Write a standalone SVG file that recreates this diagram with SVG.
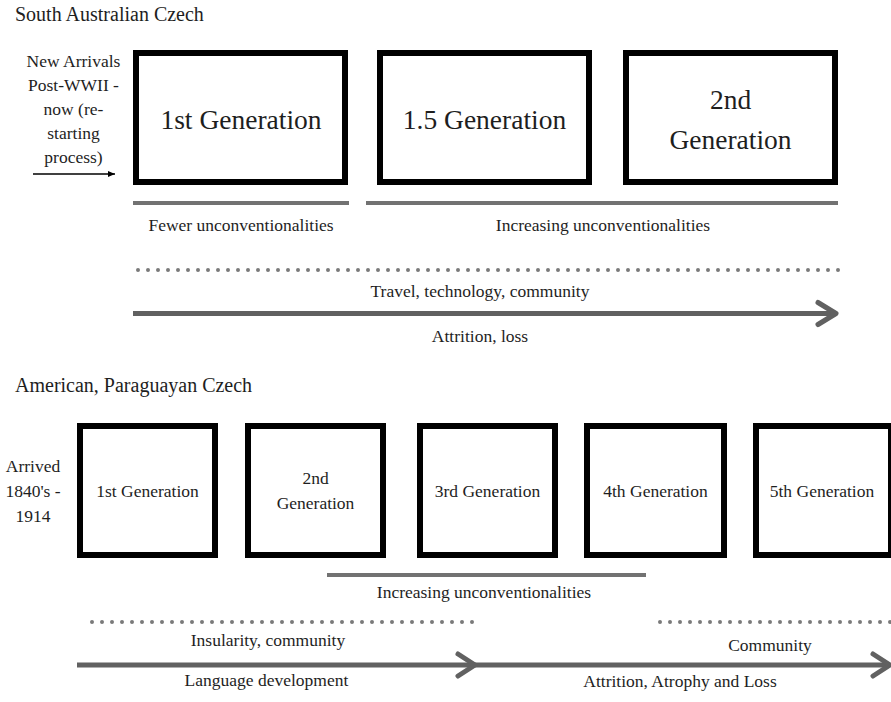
<svg xmlns="http://www.w3.org/2000/svg" width="891" height="702" viewBox="0 0 891 702">
<style>
text{font-family:"Liberation Serif","Times New Roman",serif;fill:#1e1e1e;}
.title{font-size:20px;}
.big{font-size:27.5px;text-anchor:middle;}
.sm{font-size:17.5px;text-anchor:middle;}
.box{fill:#fff;stroke:#000;stroke-width:6;}
.bar{stroke:#727272;stroke-width:4;fill:none;}
.dots{stroke:#7a7a7a;stroke-width:4;stroke-linecap:round;stroke-dasharray:0 10;fill:none;}
.arr{stroke:#616161;stroke-width:5;fill:none;}
.head{stroke:#616161;stroke-width:5;fill:none;stroke-linecap:round;stroke-linejoin:round;}
</style>
<defs>
<marker id="tri" viewBox="0 0 10 10" refX="10" refY="5" markerWidth="7" markerHeight="6" markerUnits="userSpaceOnUse" orient="auto" preserveAspectRatio="none">
<path d="M0,0 L10,5 L0,10 Z" fill="#000"/>
</marker>
</defs>
<rect width="891" height="702" fill="#fff"/>

<!-- Top section -->
<text class="title" x="15" y="20.5">South Australian Czech</text>
<g id="new-arrivals">
<text class="sm" x="73.5" y="67">New Arrivals</text>
<text class="sm" x="73.5" y="91">Post-WWII -</text>
<text class="sm" x="73.5" y="115">now (re-</text>
<text class="sm" x="73.5" y="139">starting</text>
<text class="sm" x="73.5" y="163">process)</text>
</g>
<g id="au-gen1">
<rect class="box" x="136" y="53" width="209" height="129"/>
<text class="big" x="241" y="129">1st Generation</text>
</g>
<g id="au-gen15">
<rect class="box" x="380" y="53" width="209" height="129"/>
<text class="big" x="484.5" y="129">1.5 Generation</text>
</g>
<g id="au-gen2">
<rect class="box" x="626" y="53" width="209" height="129"/>
<text class="big" x="730.5" y="109">2nd</text>
<text class="big" x="730.5" y="149">Generation</text>
</g>
<g id="au-labels">
<text class="sm" x="241" y="231">Fewer unconventionalities</text>
<text class="sm" x="603" y="231">Increasing unconventionalities</text>
<text class="sm" x="480" y="297">Travel, technology, community</text>
<text class="sm" x="480" y="342">Attrition, loss</text>
</g>

<!-- Bottom section -->
<text class="title" x="15" y="392">American, Paraguayan Czech</text>
<g id="arrived">
<text class="sm" x="33" y="472">Arrived</text>
<text class="sm" x="33" y="497">1840's -</text>
<text class="sm" x="33" y="522">1914</text>
</g>
<g id="us-gen1">
<rect class="box" x="80" y="426" width="135" height="129"/>
<text class="sm" x="147.5" y="497">1st Generation</text>
</g>
<g id="us-gen2">
<rect class="box" x="248" y="426" width="135" height="129"/>
<text class="sm" x="315.5" y="484">2nd</text>
<text class="sm" x="315.5" y="509">Generation</text>
</g>
<g id="us-gen3">
<rect class="box" x="420" y="426" width="135" height="129"/>
<text class="sm" x="487.5" y="497">3rd Generation</text>
</g>
<g id="us-gen4">
<rect class="box" x="587" y="426" width="137" height="129"/>
<text class="sm" x="655.5" y="497">4th Generation</text>
</g>
<g id="us-gen5">
<rect class="box" x="756" y="426" width="135" height="129"/>
<text class="sm" x="822" y="497">5th Generation</text>
</g>
<g id="us-labels">
<text class="sm" x="484" y="598">Increasing unconventionalities</text>
<text class="sm" x="268" y="646">Insularity, community</text>
<text class="sm" x="770" y="651">Community</text>
<text class="sm" x="266.5" y="686">Language development</text>
<text class="sm" x="680" y="687">Attrition, Atrophy and Loss</text>
</g>

<g id="connectors">
<line x1="33" y1="174" x2="115" y2="174" stroke="#000" stroke-width="1.5" marker-end="url(#tri)"/>
<line class="bar" x1="133" y1="203" x2="349" y2="203"/>
<line class="bar" x1="366" y1="203" x2="838" y2="203"/>
<line class="dots" x1="138" y1="270" x2="839" y2="270"/>
<line class="arr" x1="133" y1="313.5" x2="835" y2="313.5"/>
<polyline class="head" points="818,302.5 836,313.5 818,324.5"/>

<line class="bar" x1="327" y1="575" x2="646" y2="575"/>
<line class="dots" x1="92" y1="622" x2="473" y2="622"/>
<line class="dots" x1="660" y1="622" x2="900" y2="622"/>
<line class="arr" x1="77" y1="665" x2="889" y2="665"/>
<polyline class="head" points="458,654 475,665 458,676"/>
<polyline class="head" points="873,654 890,665 873,676"/>
</g>
</svg>
